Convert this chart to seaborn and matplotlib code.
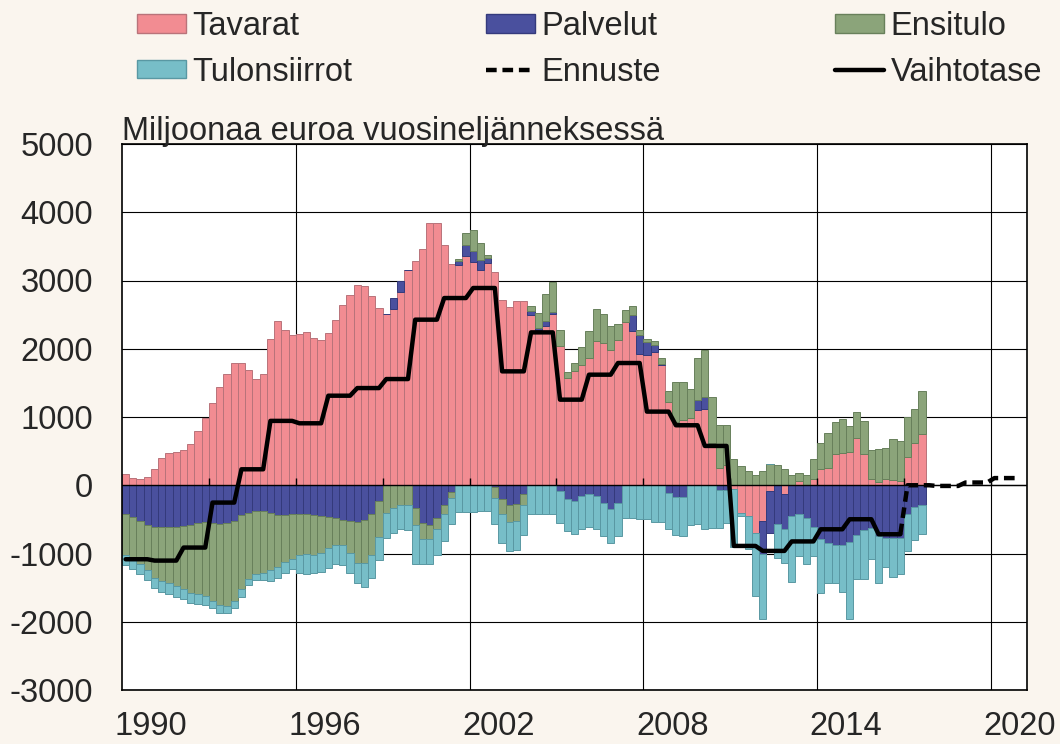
import numpy as np
import pandas as pd
import seaborn as sns
import matplotlib
matplotlib.use('Agg')
import matplotlib.pyplot as plt
from matplotlib.patches import Patch
from matplotlib.lines import Line2D

# quarterly data, 1989Q1 .. 2016Q3, one row per year
tavarat = [
    171, 112, 98, 127,
    234, 405, 469, 493,
    523, 601, 796, 991,
    1205, 1439, 1630, 1786,
    1796, 1683, 1556, 1630,
    2142, 2411, 2279, 2206,
    2216, 2240, 2162, 2133,
    2230, 2421, 2645, 2792,
    2934, 2924, 2768, 2597,
    2504, 2582, 2826, 3149,
    3285, 3461, 3847, 3847,
    3525, 3246, 3232, 3363,
    3266, 3158, 3251, 3129,
    2709, 2606, 2694, 2704,
    2499, 2279, 2328, 2504,
    2045, 1578, 1669, 1761,
    1864, 2108, 2084, 1976,
    2133, 2387, 2255, 1923,
    1913, 1947, 1757, 1221,
    930, 960, 990, 1097,
    1117, 560, 259, 300,
    -49, -401, -449, -694,
    -523, -83, 0, -132,
    0, 63, 0, 98,
    234, 259, 454, 469,
    493, 698, 454, 88,
    49, 88, 73, 63,
    420, 615, 747,
]
palvelut = [
    -425, -459, -523, -576,
    -606, -611, -611, -611,
    -596, -576, -547, -532,
    -547, -567, -557, -518,
    -440, -401, -381, -376,
    -401, -440, -440, -425,
    -425, -420, -430, -449,
    -459, -474, -503, -523,
    -532, -508, -415, -230,
    0, 161, 171, 0,
    -327, -547, -581, -484,
    -283, -98, 58, 156,
    166, 137, 83, -29,
    -195, -293, -278, -132,
    49, 24, 73, 39,
    -83, -205, -230, -156,
    -132, -156, -264, -342,
    -264, 0, 244, 283,
    181, 112, 20, -108,
    -166, -166, 0, 156,
    176, 60, -73, -73,
    0, 0, 0, 0,
    -488, -611, -572, -513,
    -449, -425, -474, -606,
    -791, -850, -879, -879,
    -830, -733, -655, -620,
    -742, -767, -767, -767,
    -425, -313, -293,
]
ensitulo = [
    -601, -616, -635, -665,
    -747, -791, -825, -864,
    -928, -997, -1050, -1090,
    -1148, -1191, -1211, -1177,
    -1084, -976, -913, -913,
    -844, -752, -683, -650,
    -596, -591, -586, -538,
    -454, -400, -366, -473,
    -611, -635, -601, -527,
    -401, -327, -293, -283,
    -259, -234, -200, -161,
    -142, -93, 29, 176,
    308, 254, 39, -152,
    -230, -244, -245, -161,
    73, 220, 405, 435,
    234, 80, 122, 264,
    400, 474, 429, 352,
    234, 185, 132, 73,
    53, 59, 88, 164,
    582, 552, 425, 611,
    694, 670, 620, 580,
    381, 283, 210, 146,
    210, 307, 293, 240,
    146, 123, 146, 283,
    391, 503, 474, 508,
    376, 381, 489, 430,
    478, 464, 611, 587,
    586, 508, 629,
]
tulonsiirrot = [
    -146, -156, -136, -141,
    -146, -161, -151, -161,
    -146, -156, -147, -136,
    -98, -108, -107, -98,
    -107, -83, -98, -103,
    -157, -171, -166, -156,
    -268, -283, -273, -278,
    -293, -284, -306, -293,
    -293, -347, -337, -342,
    -376, -376, -352, -376,
    -562, -367, -367, -371,
    -391, -381, -386, -386,
    -386, -376, -376, -381,
    -425, -425, -424, -435,
    -425, -425, -425, -425,
    -464, -464, -488, -489,
    -474, -489, -479, -498,
    -479, -479, -474, -489,
    -498, -537, -537, -537,
    -567, -577, -586, -572,
    -645, -620, -547, -474,
    -850, -48, -489, -928,
    -943, 0, -488, -488,
    -967, -610, -674, -429,
    -782, -576, -547, -684,
    -1124, -644, -722, -455,
    -684, -425, -571, -537,
    -537, -488, -425,
]

# current account, annual level per quarter
vaihtotase_years = list(range(1989, 2016))
vaihtotase = [-1084, -1104, -913, -254, 234, 943, 908, 1312, 1424, 1556,
              2426, 2743, 2890, 1669, 2240, 1254, 1620, 1791, 1079, 879,
              576, -889, -962, -823, -645, -498, -718]
ennuste_years = [2016, 2017, 2018, 2019]
ennuste = [0, -10, 40, 105]

x_labels = ['1990', '1996', '2002', '2008', '2014', '2020']

BG = '#FAF5EE'
colors = {
    'Tavarat': ('#F28C92', '#B9737A'),
    'Palvelut': ('#4A509E', '#343A7C'),
    'Ensitulo': ('#8BA47A', '#68805B'),
    'Tulonsiirrot': ('#77BEC8', '#5998A3'),
}
DASH = (0, (2.4, 1.3))

sns.set_style('white')
plt.rcParams['font.family'] = ['Liberation Sans', 'DejaVu Sans']
FS = 23.5

fig = plt.figure(figsize=(10.6, 7.44), dpi=100, facecolor=BG)
ax = fig.add_axes([122 / 1060, 54 / 744, 905 / 1060, 546 / 744])
ax.set_facecolor('white')

n = len(tavarat)
x_q = 1989 + (np.arange(n) + 0.5) / 4

pos_bottom = np.zeros(n)
neg_bottom = np.zeros(n)
for name, vals in [('Tavarat', tavarat), ('Palvelut', palvelut),
                   ('Ensitulo', ensitulo), ('Tulonsiirrot', tulonsiirrot)]:
    v = np.array(vals, dtype=float)
    bottom = np.where(v >= 0, pos_bottom, neg_bottom)
    fc, ec = colors[name]
    ax.bar(x_q, v, width=0.25, bottom=bottom, color=fc, edgecolor=ec,
           linewidth=0.7, zorder=2)
    pos_bottom += np.where(v > 0, v, 0)
    neg_bottom += np.where(v < 0, v, 0)

# zero axis with small ticks every three years
ax.axhline(0, color='black', lw=1.0, zorder=3)
ax.vlines(np.arange(1992, 2020, 3), 0, 100, color='black', lw=1.0, zorder=3)

# current account line (annual value at each quarter)
vt_q = np.repeat(vaihtotase, 4)
vt_x = 1989 + (np.arange(len(vt_q)) + 0.5) / 4
line_df = pd.DataFrame({'x': vt_x, 'y': vt_q})
sns.lineplot(data=line_df, x='x', y='y', color='black', linewidth=3.2,
             ax=ax, zorder=5)

en_q = np.concatenate([[vaihtotase[-1]], np.repeat(ennuste, 4)])
en_x = 1989 + (np.arange(len(vt_q) - 1, len(vt_q) + 16) + 0.5) / 4
en_df = pd.DataFrame({'x': en_x, 'y': en_q})
sns.lineplot(data=en_df, x='x', y='y', color='black', linewidth=3.2,
             linestyle=DASH, ax=ax, zorder=5)

ax.set_xlim(1989, 2020.25)
ax.set_ylim(-3000, 5000)
ax.set_xticks([int(s) for s in x_labels])
ax.set_xticklabels(x_labels, fontsize=FS)
ax.set_xticks(np.arange(1995, 2020, 6), minor=True)
yt = np.arange(-3000, 5001, 1000)
ax.set_yticks(yt)
ax.set_yticklabels([str(v) for v in yt], fontsize=FS)
ax.tick_params(axis='both', which='both', length=0)
ax.tick_params(axis='y', pad=21)
ax.tick_params(axis='x', pad=15)
ax.grid(False)
ax.grid(which='minor', axis='x', color='black', lw=0.8)
ax.grid(which='major', axis='y', color='black', lw=0.8)
ax.set_axisbelow(True)
ax.set_xlabel('')
ax.set_ylabel('')
for sp in ax.spines.values():
    sp.set_color('black')
    sp.set_linewidth(1.2)
    sp.set_visible(True)

fig.text(122 / 1060, 1 - 140 / 744, 'Miljoonaa euroa vuosineljänneksessä',
         fontsize=FS, va='baseline', ha='left')

# legend, three columns
def patch(name):
    fc, ec = colors[name]
    return Patch(facecolor=fc, edgecolor=ec, linewidth=1.0)

cols = [
    ([patch('Tavarat'), patch('Tulonsiirrot')], ['Tavarat', 'Tulonsiirrot'], 137),
    ([patch('Palvelut'), Line2D([], [], color='black', lw=3.2, linestyle=DASH)],
     ['Palvelut', 'Ennuste'], 486),
    ([patch('Ensitulo'), Line2D([], [], color='black', lw=3.2)],
     ['Ensitulo', 'Vaihtotase'], 835),
]
for handles, labels, xpx in cols:
    fig.legend(handles, labels, loc='upper left',
               bbox_to_anchor=(xpx / 1060, 1 - 11 / 744), frameon=False,
               fontsize=FS, handlelength=1.5, handleheight=0.5,
               handletextpad=0.2, labelspacing=0.45, borderpad=0,
               borderaxespad=0)

fig.savefig('out.png', dpi=100, facecolor=BG)
